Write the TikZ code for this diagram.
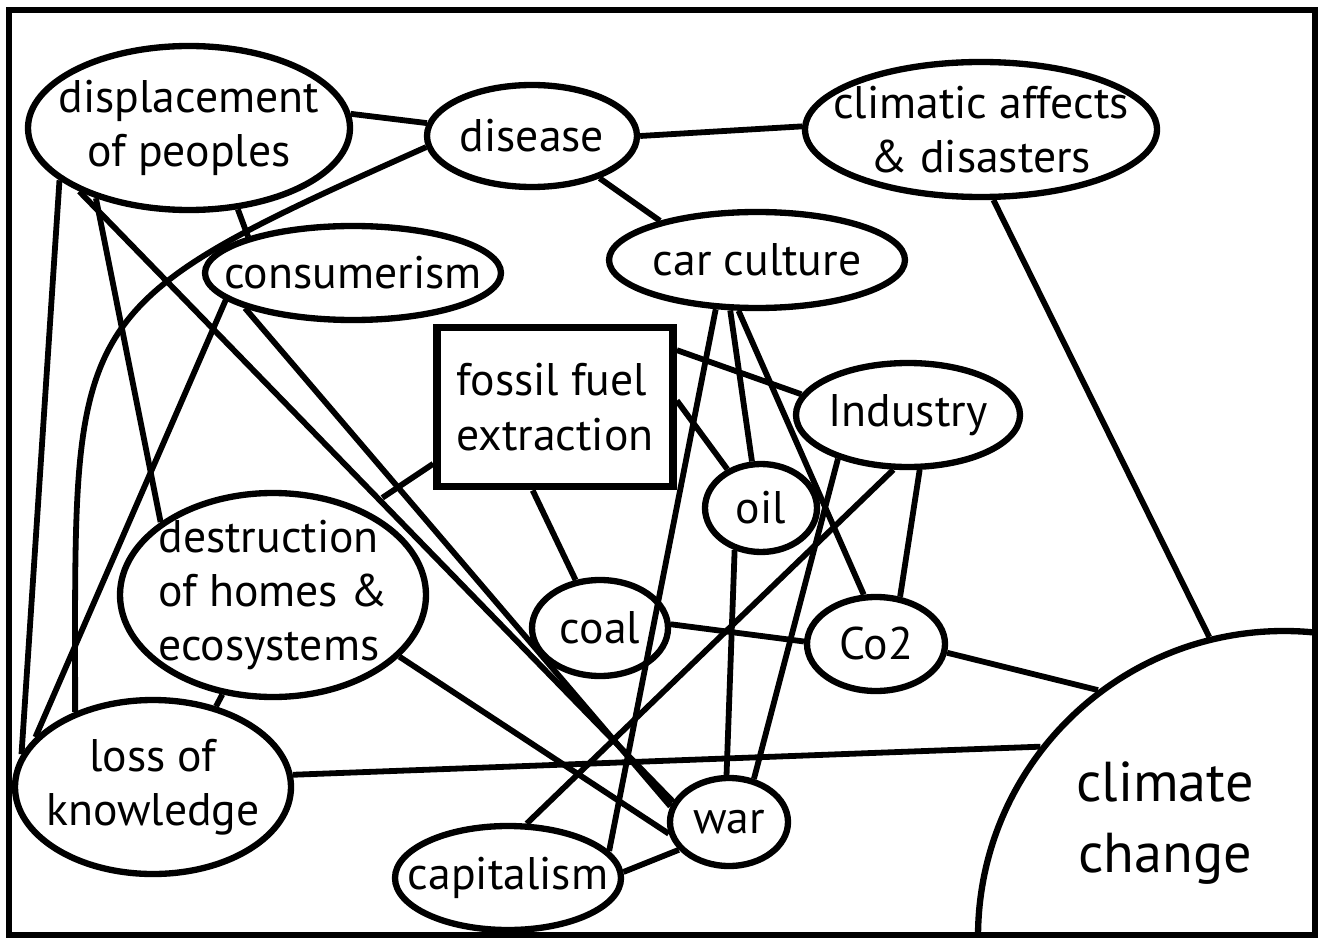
\documentclass[tikz,border=0pt]{standalone}
\usepackage{fontspec}
\setmainfont{PT Sans}
\usetikzlibrary{shapes.geometric}

\tikzset{
  bubble/.style 2 args={draw, ellipse, line width=3.6pt, inner sep=0pt,
    minimum width=#1cm, minimum height=#2cm},
  tag/.style={align=center, inner sep=0pt, font=\fontsize{26}{31}\selectfont},
  link/.style={line width=3.3pt},
}

\begin{document}
\begin{tikzpicture}
\useasboundingbox (0,0) rectangle (26.42,18.78);
% the big circle, cut off by the frame
\begin{scope}
\clip (0.18,0.08) rectangle (26.30,18.58);
\node[draw, circle, line width=3.6pt, inner sep=0pt, minimum size=12.24cm] (climate) at (25.68,0.04) {};
\end{scope}
\draw[line width=3.6pt] (0.18,0.08) rectangle (26.30,18.58);
\node[font=\fontsize{32}{40}\selectfont, align=center] (cctext) at (23.30,2.32) {climate\\change};

\node[bubble={6.44}{3.28}, label={[tag]center:displacement\\of peoples}] (displ) at (3.78,16.22) {};
\node[bubble={4.2}{2.04}, label={[tag]center:disease}] (disease) at (10.64,16.06) {};
\node[bubble={7.04}{2.7}, label={[tag]center:climatic affects\\\& disasters}] (climatic) at (19.62,16.19) {};
\node[bubble={5.92}{1.88}, label={[tag]center:consumerism}] (consumer) at (7.06,13.32) {};
\node[bubble={5.92}{1.92}, label={[tag]center:car culture}] (carcult) at (15.14,13.58) {};
\node[draw, line width=4.4pt, minimum width=4.72cm, minimum height=3.18cm, tag, align=left] (fossil) at (11.10,10.64) {fossil fuel\\extraction};
\node[bubble={4.48}{2.08}, label={[tag]center:Industry}] (industry) at (18.16,10.48) {};
\node[bubble={2.24}{1.76}, label={[tag]center:oil}] (oil) at (15.22,8.62) {};
\node[bubble={2.72}{1.92}, label={[tag]center:coal}] (coal) at (12.00,6.22) {};
\node[bubble={2.76}{1.88}, label={[tag]center:Co2}] (cotwo) at (17.52,5.90) {};
\node[bubble={6.12}{4.08}, label={[tag, align=left]center:destruction\\of homes \&\\ecosystems}] (destruct) at (5.46,6.88) {};
\node[bubble={5.52}{3.48}, label={[tag]center:loss of\\knowledge}] (loss) at (3.06,3.04) {};
\node[bubble={2.36}{1.76}, label={[tag]center:war}] (war) at (14.58,2.34) {};
\node[bubble={4.52}{2.08}, label={[tag]center:capitalism}] (capital) at (10.16,1.22) {};

% links
\draw[link] (displ.5) -- (disease.173);
\draw[link] (disease.0) -- (climatic.179);
\draw[link] (disease.328) -- (carcult.158);
\draw[link] (disease.186) .. controls +(204:8) and +(90:8) .. (loss.136);
\draw[link] (displ.202) -- (loss.166);
\draw[link] (displ.217) -- (destruct.147);
\draw[link] (displ.210) -- (war.160);
\draw[link] (displ.301) -- (consumer.161);
\draw[link] (consumer.192) -- (loss.157);
\draw[link] (consumer.198) -- (war.165);
\draw[link] (fossil.25) -- (industry.169);
\draw[link] (fossil.3) -- (oil.131);
\draw[link] (fossil.255) -- (coal.117);
\draw[link, shorten >=0.43cm] (fossil.205) -- (destruct.43);
\draw[link] (carcult.230) -- (capital.15);
\draw[link] (carcult.242) -- (oil.101);
\draw[link] (carcult.250) -- (cotwo.104);
\draw[link] (industry.212) -- (war.60);
\draw[link] (industry.255) -- (capital.71);
\draw[link] (industry.282) -- (cotwo.63);
\draw[link] (oil.238) -- (war.93);
\draw[link] (coal.3) -- (cotwo.178);
\draw[link] (cotwo.353) -- (climate.127);
\draw[link] (climatic.280) -- (climate.104);
\draw[link] (loss.5) -- (climate.142);
\draw[link] (destruct.243) -- (loss.52);
\draw[link] (destruct.334) -- (war.191);
\draw[link] (capital.3) -- (war.209);
\end{tikzpicture}
\end{document}
